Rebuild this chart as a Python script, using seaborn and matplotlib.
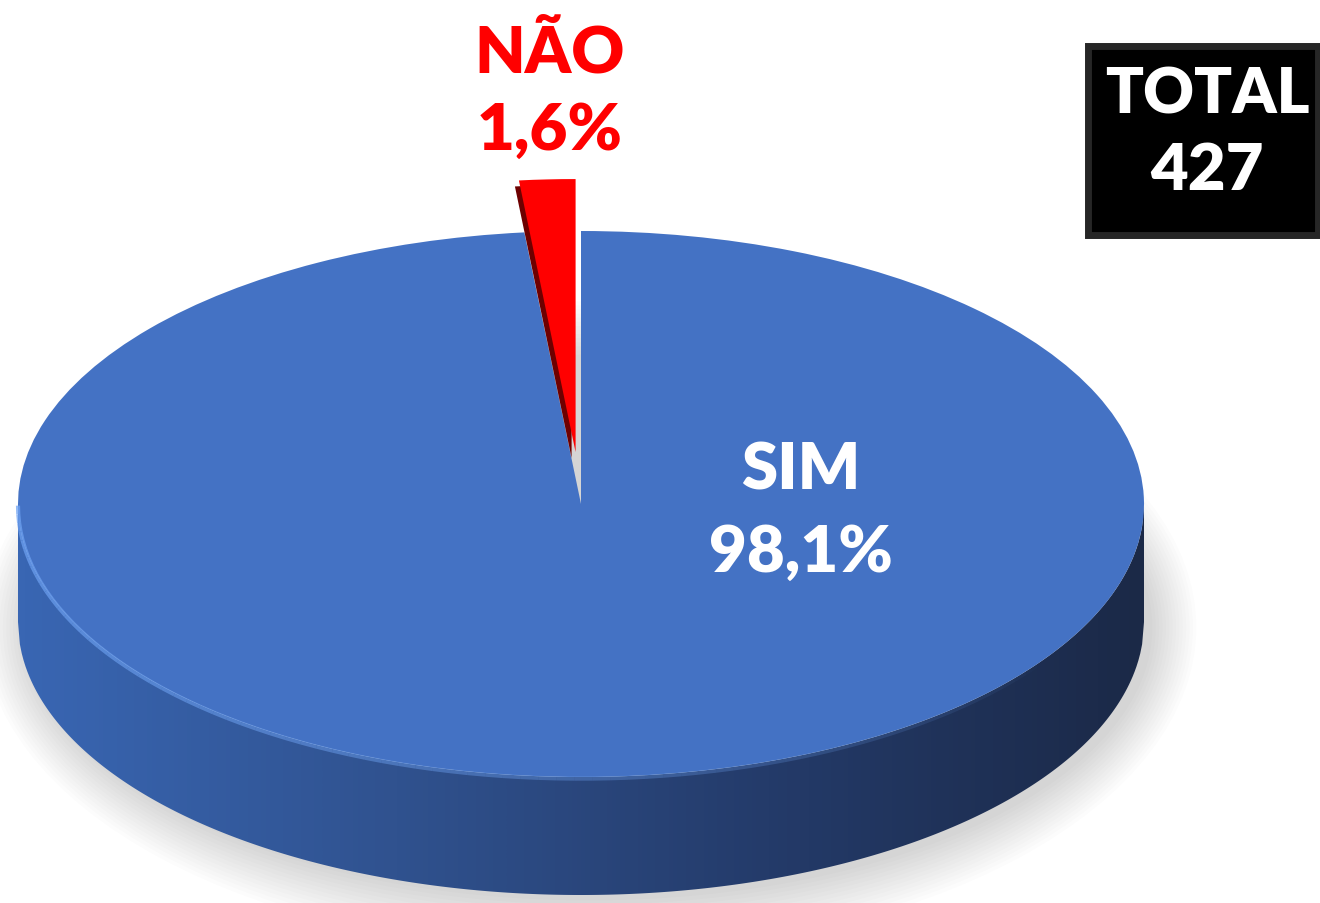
import numpy as np
import seaborn as sns
import matplotlib.pyplot as plt
from matplotlib.colors import LinearSegmentedColormap
from matplotlib.patches import Ellipse, Rectangle

# data
labels = ["NÃO", "SIM"]
values = [1.6, 98.1]
total = 427

sns.set_style("white")
plt.rcParams['font.family'] = ['Lato', 'DejaVu Sans']

W, H = 1320, 904
CX, CY, A, B = 581, 505, 563, 273     # ellipse of the top face, pixels
D = 118 / B                          # depth of the disc

fig = plt.figure(figsize=(W / 100, H / 100), dpi=100)
ax = fig.add_axes([0, 0, 1, 1])

def px(x, y):
    return (x - CX) / A, (CY - y) / B

pal = {"NÃO": "#ff0000", "SIM": "#4472c4"}
cols = [pal[l] for l in labels]

# soft shadow below the disc
for i in range(14):
    ax.add_patch(Ellipse((0.015, -D - 0.02), 2.0 + 0.012 * i, 2.0 + 0.03 * i,
                         facecolor="#000000", alpha=0.012, lw=0, zorder=0))

# side band with a left-to-right gradient
xs = np.linspace(-1, 1, 600)
top = -np.sqrt(1 - xs ** 2)
band = ax.fill_between(xs, top, top - D, color="none", lw=0, zorder=1)
side_cmap = LinearSegmentedColormap.from_list(
    "side", ["#3966b3", "#30528f", "#243b6a", "#1b2947"])
grad = np.linspace(0, 1, 256).reshape(1, -1)
img = ax.imshow(grad, extent=[-1, 1, -1 - D, 0], cmap=side_cmap,
                aspect="auto", zorder=1, interpolation="bicubic")
img.set_clip_path(band.get_paths()[0], transform=ax.transData)

explode = [52 / B, 0]
wedges, _ = ax.pie(values, colors=cols, startangle=90, explode=explode,
                   radius=1, center=(0, 0), wedgeprops=dict(linewidth=0))
wedges[0].set_zorder(4)
wedges[1].set_zorder(2)

# dark cut face of the exploded slice
dark, _ = ax.pie(values, colors=["#6e0000", "none"], startangle=90, explode=explode,
                 radius=1, center=(-4 / A, -6 / B), wedgeprops=dict(linewidth=0))
for w in dark:
    w.set_zorder(3)

# light rim on the front edge, fading towards the right
t = np.linspace(np.pi * 1.0, np.pi * 1.8, 80)
for i in range(len(t) - 1):
    a = 0.75 * (1 - i / (len(t) - 1)) ** 0.8
    ax.plot(np.cos(t[i:i + 2]), np.sin(t[i:i + 2]) - 0.006, color="#6ea2f2",
            lw=3, alpha=a, zorder=2.5, solid_capstyle="butt")

ax.set_aspect("auto")
ax.set_xlim((0 - CX) / A, (W - CX) / A)
ax.set_ylim((CY - H) / B, CY / B)
ax.axis("off")

font = dict(fontsize=47, fontweight="heavy", ha="center", va="center")

# labels
x, y = px(801, 471)
ax.text(x, y, labels[1], color="white", zorder=5, **font)
x, y = px(801, 553)
ax.text(x, y, f"{values[1]:.1f}%".replace(".", ","), color="white", zorder=5, **font)
x, y = px(550, 54)
ax.text(x, y, labels[0], color="#ff0000", zorder=5, **font)
x, y = px(550, 131)
ax.text(x, y, f"{values[0]:.1f}%".replace(".", ","), color="#ff0000", zorder=5, **font)

# TOTAL box
fig.patches.append(Rectangle((1093 / W, (H - 240) / H), 228 / W, 190 / H,
                             transform=fig.transFigure, facecolor="#9a9a9a",
                             alpha=0.5, lw=0, zorder=0))
fig.patches.append(Rectangle((1088 / W, (H - 236) / H), 230 / W, 189 / H,
                             transform=fig.transFigure, facecolor="#000000",
                             edgecolor="#262626", lw=5, zorder=1))
fig.text(1207 / W, (H - 95) / H, "TOTAL", color="white", fontsize=45,
         fontweight="heavy", ha="center", va="center")
fig.text(1207 / W, (H - 172) / H, str(total), color="white", fontsize=47,
         fontweight="heavy", ha="center", va="center")

fig.savefig("out.png", dpi=100, facecolor="white")
